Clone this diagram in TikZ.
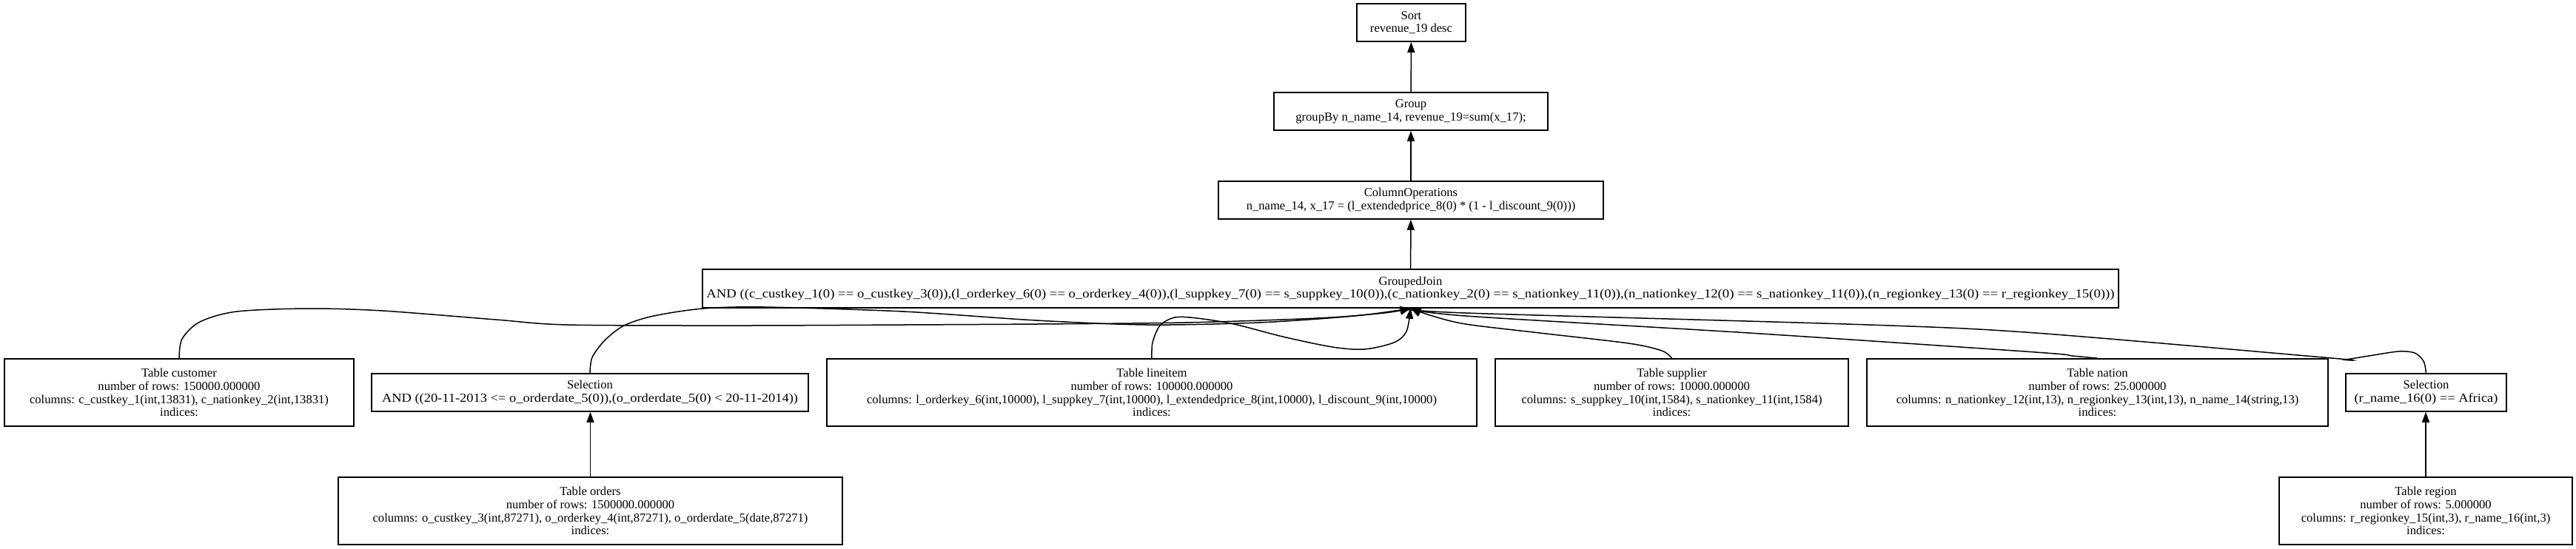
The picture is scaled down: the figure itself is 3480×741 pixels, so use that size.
\documentclass[tikz,border=0pt]{standalone}
\usepackage{fontspec}
\usepackage{graphicx}
\setmainfont{Liberation Serif}
\usetikzlibrary{arrows.meta}
\newcommand{\widen}[2]{\resizebox{#1}{\height}{#2}}
\begin{document}
\begin{tikzpicture}[x=0.5pt,y=-0.5pt,
  box/.style={draw, line width=0.8pt, inner sep=0pt, align=center,
    font=\fontsize{8.3pt}{8.85pt}\selectfont, minimum height=25.5pt},
  tall/.style={box, minimum height=45.5pt},
  edge/.style={line width=0.75pt, -{Triangle[length=7pt,width=5pt]}}]
\fill[white] (0,0) rectangle (3480,741);
\useasboundingbox (0,0) rectangle (3480,741);

\node[box, minimum width=73.5pt] (sort) at (1906.5,30.5) {Sort\\revenue\_19 desc};
\node[box, minimum width=185pt] (group) at (1906,150.5) {Group\\groupBy n\_name\_14, revenue\_19=sum(x\_17);};
\node[box, minimum width=260pt] (colops) at (1906,270.5) {ColumnOperations\\n\_name\_14, x\_17 = (l\_extendedprice\_8(0) * (1 - l\_discount\_9(0)))};
\node[box, minimum width=956.5pt, minimum height=26pt] (gj) at (1905.5,390) {GroupedJoin\\\widen{951pt}{AND ((c\_custkey\_1(0) == o\_custkey\_3(0)),(l\_orderkey\_6(0) == o\_orderkey\_4(0)),(l\_suppkey\_7(0) == s\_suppkey\_10(0)),(c\_nationkey\_2(0) == s\_nationkey\_11(0)),(n\_nationkey\_12(0) == s\_nationkey\_11(0)),(n\_regionkey\_13(0) == r\_regionkey\_15(0)))}};

\node[tall, minimum width=236pt] (customer) at (242,530.5) {Table customer\\number of rows: 150000.000000\\columns: c\_custkey\_1(int,13831), c\_nationkey\_2(int,13831)\\indices:};
\node[box, minimum width=295pt] (selL) at (797,530.5) {Selection\\\widen{281pt}{AND ((20-11-2013 <= o\_orderdate\_5(0)),(o\_orderdate\_5(0) < 20-11-2014))}};
\node[tall, minimum width=439pt] (lineitem) at (1556,530.5) {Table lineitem\\number of rows: 100000.000000\\columns: l\_orderkey\_6(int,10000), l\_suppkey\_7(int,10000), l\_extendedprice\_8(int,10000), l\_discount\_9(int,10000)\\indices:};
\node[tall, minimum width=238.5pt] (supplier) at (2258.5,530.5) {Table supplier\\number of rows: 10000.000000\\columns: s\_suppkey\_10(int,1584), s\_nationkey\_11(int,1584)\\indices:};
\node[tall, minimum width=311.5pt] (nation) at (2833.5,530.5) {Table nation\\number of rows: 25.000000\\columns: n\_nationkey\_12(int,13), n\_regionkey\_13(int,13), n\_name\_14(string,13)\\indices:};
\node[box, minimum width=108.5pt] (selR) at (3277.5,530.5) {Selection\\\widen{97pt}{(r\_name\_16(0) == Africa)}};

\node[tall, minimum width=340.5pt] (orders) at (797.5,690.5) {Table orders\\number of rows: 1500000.000000\\columns: o\_custkey\_3(int,87271), o\_orderkey\_4(int,87271), o\_orderdate\_5(date,87271)\\indices:};
\node[tall, minimum width=198pt] (region) at (3277,690.5) {Table region\\number of rows: 5.000000\\columns: r\_regionkey\_15(int,3), r\_name\_16(int,3)\\indices:};

\draw[edge] (group) -- (sort);
\draw[edge] (colops) -- (group);
\draw[edge] (gj) -- (colops);
\draw[edge] (orders.north) -- (orders.north |- selL.south);
\draw[edge] (region.north) -- (region.north |- selR.south);

\draw[edge] plot[smooth] coordinates {(customer.north) (246,458) (270,435) (320,421) (417,417) (517,420) (670,432) (767,439) (1000,440) (1220,439) (1400,438) (1600,436) (1780,430) (1870,423) (gj.south)};
\draw[edge] plot[smooth] coordinates {(selL.north) (800,483) (817,460) (843,440) (883,427) (950,417) (1033,415) (1220,421) (1400,433) (1550,439) (1700,436) (1830,427) (gj.south)};
\draw[edge] plot[smooth] coordinates {(lineitem.north) (1557,463) (1567,440) (1587,429) (1617,430) (1667,438) (1733,455) (1800,469) (1843,472) (1883,463) (1900,448) (gj.south)};
\draw[edge] plot[smooth] coordinates {(supplier.north) (2245,474) (2200,464) (2080,450) (1980,438) (1935,427) (gj.south)};
\draw[edge] plot[smooth] coordinates {(nation.north) (2800,481) (2750,476) (2363,450) (1980,427) (gj.south)};
\draw[edge] plot[smooth] coordinates {(selR.north) (3274,488) (3262,477) (3240,475) (3200,481) (3167,486) (3150,484) (2750,450) (2525,439) (1980,423) (gj.south)};
\end{tikzpicture}
\end{document}
